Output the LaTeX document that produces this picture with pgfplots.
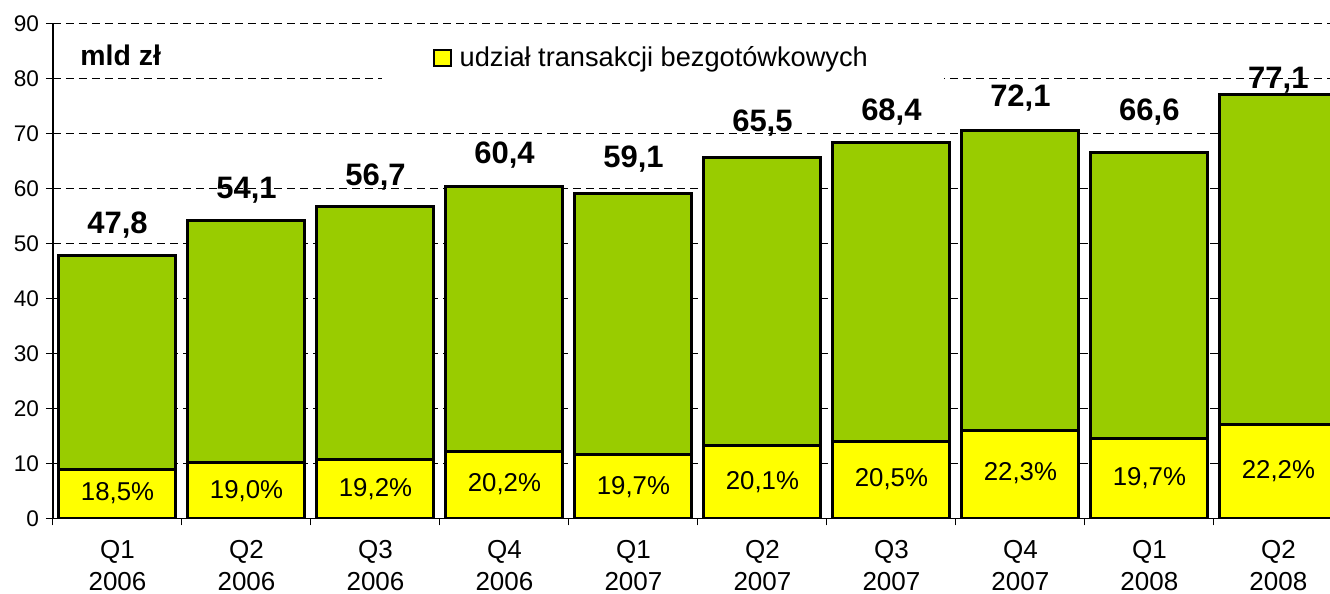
\documentclass[border=0pt]{standalone}
\usepackage{pgfplots}
\pgfplotsset{compat=1.18}
\usepackage{fontspec}
\setmainfont{Liberation Sans}
\definecolor{bargreen}{HTML}{99CC00}
\definecolor{baryellow}{HTML}{FFFF00}
\begin{document}
\begin{tikzpicture}
\path[use as bounding box] (-26.5pt,-37.85pt) rectangle (638.5pt,259.15pt);
\begin{axis}[
  at={(0pt,0pt)}, anchor=south west,
  scale only axis,
  width=638.5pt, height=247.5pt,
  xmin=-0.5, xmax=9.4,
  ymin=0, ymax=90,
  ytick={0,10,...,90},
  xtick={-0.5,0.5,...,9.5},
  xticklabels={},
  extra x ticks={0,1,...,9},
  extra x tick labels={{Q1\\2006},{Q2\\2006},{Q3\\2006},{Q4\\2006},{Q1\\2007},{Q2\\2007},{Q3\\2007},{Q4\\2007},{Q1\\2008},{Q2\\2008}},
  extra x tick style={major tick length=0pt, grid=none,
    tick label style={yshift=-7.3pt}},
  x tick label style={align=center, font=\fontsize{13}{16.3}\selectfont},
  y tick label style={font=\fontsize{11.3}{12}\selectfont},
  /pgf/number format/assume math mode=true,
  axis x line*=bottom, axis y line*=left,
  axis line style={-, black, line width=0.6pt},
  tick align=outside,
  major tick length=3.5pt,
  tick style={black, line width=0.5pt},
  ymajorgrids,
  major grid style={black, line width=0.5pt, dash pattern=on 4pt off 2.5pt},
  bar width=0.907,
  legend style={at={(rel axis cs:0.297,0.93)}, anchor=west, draw=none, fill=none,
    font=\fontsize{13.6}{15}\selectfont, inner sep=0pt},
  legend cell align=left,
]
\fill[white] (axis cs:2.05,76.5) rectangle (axis cs:6.41,89.3);

% total (green) bars as drawn
\addplot[ybar, bar shift=0pt, fill=bargreen, draw=black, line width=1.5pt, forget plot]
  coordinates {(0,47.8) (1,54.1) (2,56.7) (3,60.4) (4,59.1) (5,65.6) (6,68.4) (7,70.5) (8,66.6) (9,77.1)};
% cashless share (yellow) bars
\addplot[ybar, bar shift=0pt, fill=baryellow, draw=black, line width=1.5pt,
  legend image code/.code={\draw[fill=baryellow, draw=black, line width=1pt] (0pt,-4.2pt) rectangle (8.5pt,4.2pt);}]
  coordinates {(0,8.8) (1,10.2) (2,10.7) (3,12.1) (4,11.6) (5,13.2) (6,13.9) (7,15.9) (8,14.5) (9,17.1)};
\addlegendentry{\hspace{2pt}udział transakcji bezgotówkowych}

% value labels
\begin{scope}[every node/.style={anchor=base, font=\bfseries\fontsize{15.5}{17}\selectfont}]
\node at (axis cs:0,51.7) {47,8};
\node at (axis cs:1,58.2) {54,1};
\node at (axis cs:2,60.6) {56,7};
\node at (axis cs:3,64.5) {60,4};
\node at (axis cs:4,63.8) {59,1};
\node at (axis cs:5,70.3) {65,5};
\node at (axis cs:6,72.3) {68,4};
\node at (axis cs:7,74.8) {72,1};
\node at (axis cs:8,72.4) {66,6};
\node at (axis cs:9,78.2) {77,1};
\end{scope}
\begin{scope}[every node/.style={anchor=base, font=\fontsize{12.9}{15}\selectfont}]
\node at (axis cs:0,3.2) {18,5\%};
\node at (axis cs:1,3.6) {19,0\%};
\node at (axis cs:2,4.05) {19,2\%};
\node at (axis cs:3,4.85) {20,2\%};
\node at (axis cs:4,4.4) {19,7\%};
\node at (axis cs:5,5.3) {20,1\%};
\node at (axis cs:6,5.75) {20,5\%};
\node at (axis cs:7,6.8) {22,3\%};
\node at (axis cs:8,5.9) {19,7\%};
\node at (axis cs:9,7.15) {22,2\%};
\end{scope}
\node[anchor=base west, font=\bfseries\fontsize{14.2}{16}\selectfont, inner sep=0pt] at (axis cs:-0.29,82.4) {mld zł};
\end{axis}
\end{tikzpicture}
\end{document}
